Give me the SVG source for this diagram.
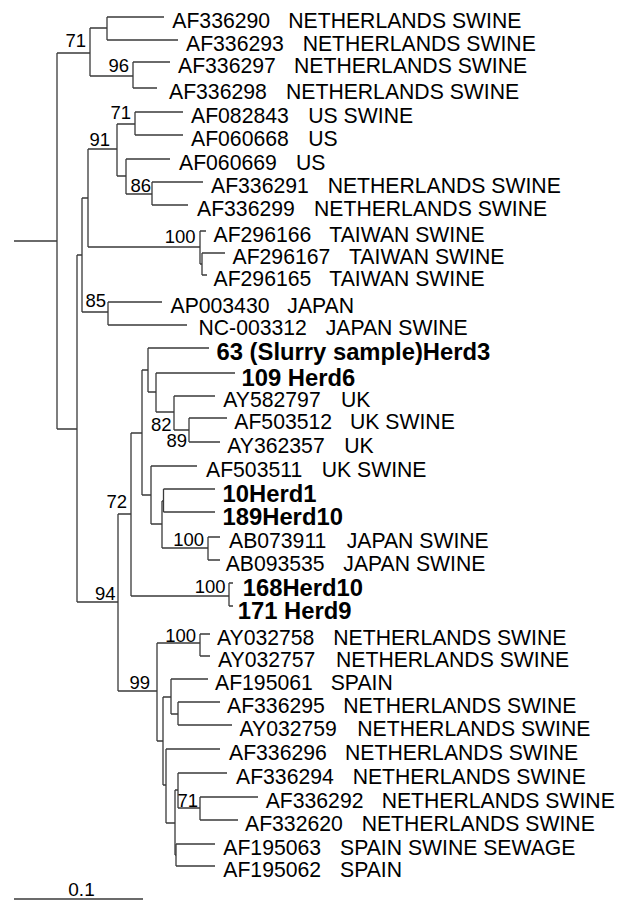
<svg xmlns="http://www.w3.org/2000/svg" width="618" height="900" viewBox="0 0 618 900">
<style>
.br{fill:none;stroke:#3a3a3a;stroke-width:1.3}
.t{font-family:"Liberation Sans",Arial,sans-serif;font-size:21.2px;fill:#000}
.b{font-family:"Liberation Sans",Arial,sans-serif;font-size:23.8px;font-weight:bold;fill:#000}
.bs{font-family:"Liberation Sans",Arial,sans-serif;font-size:18.5px;fill:#000;text-anchor:end}
</style>
<rect width="618" height="900" fill="#fff"/>
<g id="connectors" class="br">
<path d="M14 241H57M57 53V429M57 53H90M57 429H77"/>
<path d="M90 28V76M90 28H107M90 76H133"/>
<path d="M107 17V40M107 17H164M107 40H178"/>
<path d="M133 62V88M133 62H170M133 88H157"/>
<path d="M77 255V602M77 255H82M77 602H118"/>
<path d="M82 198V312M82 198H88M82 312H108"/>
<path d="M88 149V247M88 149H117M88 247H200"/>
<path d="M117 124V176M117 124H135M117 176H126"/>
<path d="M135 112V135M135 112H183M135 135H183"/>
<path d="M126 159V194M126 159H170M126 194H152"/>
<path d="M152 182V205M152 182H203M152 205H188"/>
<path d="M200 231V264M200 231H206M200 264H202"/>
<path d="M202 253V275M202 253H225M202 275H207"/>
<path d="M108 302V325M108 302H162M108 325H187"/>
<path d="M118 514V691M118 514H131M118 691H157"/>
<path d="M131 433V596M131 433H142M131 596H229"/>
<path d="M142 370V495M142 370H148M142 495H151"/>
<path d="M148 348V392M148 348H209M148 392H156"/>
<path d="M156 373V412M156 373H235M156 412H174"/>
<path d="M174 396V430M174 396H215M174 430H189"/>
<path d="M189 418V442M189 418H227M189 442H220"/>
<path d="M151 466V524M151 466H197M151 524H162"/>
<path d="M162 501V548M162 501H163.5M162 548H208"/>
<path d="M163.5 489V512M163.5 489H215M163.5 512H215"/>
<path d="M208 537V560M208 537H220M208 560H220"/>
<path d="M229 583V606M229 583H233M229 606H233"/>
<path d="M157 643V741M157 643H200M157 741H163"/>
<path d="M200 634V656M200 634H210M200 656H210"/>
<path d="M163 697V785M163 697H171M163 785H166"/>
<path d="M171 679V714M171 679H208M171 714H178"/>
<path d="M178 702V725M178 702H220M178 725H232"/>
<path d="M166 749V823M166 749H220M166 823H175"/>
<path d="M175 790V855M175 790H178M175 855H176"/>
<path d="M178 773V808M178 773H227M178 808H200"/>
<path d="M200 797V820M200 797H258M200 820H238"/>
<path d="M176 844V866M176 844H215M176 866H215"/>
<path d="M14 899H143" style="stroke-width:1.6"/>
</g>
<g id="leaves">
<g id="n1"><text class="t" x="172.3" y="27.5">AF336290<tspan x="288.3">NETHERLANDS SWINE</tspan></text></g>
<g id="n2"><text class="t" x="186" y="50.5">AF336293<tspan x="302.7">NETHERLANDS SWINE</tspan></text></g>
<g id="n3"><text class="t" x="178" y="72.5">AF336297<tspan x="294">NETHERLANDS SWINE</tspan></text></g>
<g id="n4"><text class="t" x="169" y="98.5">AF336298<tspan x="286">NETHERLANDS SWINE</tspan></text></g>
<g id="n5"><text class="t" x="191" y="122.5">AF082843<tspan x="308.3">US SWINE</tspan></text></g>
<g id="n6"><text class="t" x="191" y="145.5">AF060668<tspan x="308.3">US</tspan></text></g>
<g id="n7"><text class="t" x="179" y="169.5">AF060669<tspan x="296">US</tspan></text></g>
<g id="n8"><text class="t" x="211" y="192.5">AF336291<tspan x="327.7">NETHERLANDS SWINE</tspan></text></g>
<g id="n9"><text class="t" x="197" y="215.5">AF336299<tspan x="314">NETHERLANDS SWINE</tspan></text></g>
<g id="n10"><text class="t" x="213.5" y="241.5">AF296166<tspan x="329.3">TAIWAN SWINE</tspan></text></g>
<g id="n11"><text class="t" x="232.5" y="263.5">AF296167<tspan x="349">TAIWAN SWINE</tspan></text></g>
<g id="n12"><text class="t" x="213.5" y="285.5">AF296165<tspan x="329.3">TAIWAN SWINE</tspan></text></g>
<g id="n13"><text class="t" x="170.5" y="312.5">AP003430<tspan x="287.3">JAPAN</tspan></text></g>
<g id="n14"><text class="t" x="198.5" y="334.5">NC-003312<tspan x="325.7">JAPAN SWINE</tspan></text></g>
<g id="n15"><text class="b" x="216.5" y="359.5">63 (Slurry sample)Herd3</text></g>
<g id="n16"><text class="b" x="241.5" y="385.5">109 Herd6</text></g>
<g id="n17"><text class="t" x="223.3" y="406.5">AY582797<tspan x="341">UK</tspan></text></g>
<g id="n18"><text class="t" x="234.3" y="428.5">AF503512<tspan x="350">UK SWINE</tspan></text></g>
<g id="n19"><text class="t" x="227.3" y="452.5">AY362357<tspan x="344.3">UK</tspan></text></g>
<g id="n20"><text class="t" x="206" y="476.5">AF503511<tspan x="321.7">UK SWINE</tspan></text></g>
<g id="n21"><text class="b" x="222.5" y="501.5">10Herd1</text></g>
<g id="n22"><text class="b" x="222.5" y="524.5">189Herd10</text></g>
<g id="n23"><text class="t" x="229" y="547.5">AB073911<tspan x="346.7">JAPAN SWINE</tspan></text></g>
<g id="n24"><text class="t" x="225.7" y="570.5">AB093535<tspan x="343.3">JAPAN SWINE</tspan></text></g>
<g id="n25"><text class="b" x="242.7" y="595.5">168Herd10</text></g>
<g id="n26"><text class="b" x="237.7" y="618.5">171 Herd9</text></g>
<g id="n27"><text class="t" x="217" y="644.5">AY032758<tspan x="333.3">NETHERLANDS SWINE</tspan></text></g>
<g id="n28"><text class="t" x="218" y="666.5">AY032757<tspan x="336">NETHERLANDS SWINE</tspan></text></g>
<g id="n29"><text class="t" x="215" y="689.5">AF195061<tspan x="330.7">SPAIN</tspan></text></g>
<g id="n30"><text class="t" x="227" y="712.5">AF336295<tspan x="343.3">NETHERLANDS SWINE</tspan></text></g>
<g id="n31"><text class="t" x="239.5" y="735.5">AY032759<tspan x="357.3">NETHERLANDS SWINE</tspan></text></g>
<g id="n32"><text class="t" x="229" y="759.5">AF336296<tspan x="345">NETHERLANDS SWINE</tspan></text></g>
<g id="n33"><text class="t" x="236" y="783.5">AF336294<tspan x="352.7">NETHERLANDS SWINE</tspan></text></g>
<g id="n34"><text class="t" x="265.7" y="807.5">AF336292<tspan x="381.7">NETHERLANDS SWINE</tspan></text></g>
<g id="n35"><text class="t" x="245" y="830.5">AF332620<tspan x="361.7">NETHERLANDS SWINE</tspan></text></g>
<g id="n36"><text class="t" x="223.3" y="854.5">AF195063<tspan x="340">SPAIN SWINE SEWAGE</tspan></text></g>
<g id="n37"><text class="t" x="223.3" y="876.5">AF195062<tspan x="340">SPAIN</tspan></text></g>
</g>
<g id="support">
<text class="bs" x="86" y="47">71</text>
<text class="bs" x="129" y="71.7">96</text>
<text class="bs" x="131" y="119">71</text>
<text class="bs" x="110" y="145.7">91</text>
<text class="bs" x="151" y="192">86</text>
<text class="bs" x="195.5" y="243">100</text>
<text class="bs" x="106" y="307.3">85</text>
<text class="bs" x="171.5" y="430.7">82</text>
<text class="bs" x="187" y="447.3">89</text>
<text class="bs" x="127" y="508">72</text>
<text class="bs" x="204" y="546">100</text>
<text class="bs" x="225.5" y="593">100</text>
<text class="bs" x="115.5" y="600">94</text>
<text class="bs" x="196" y="642">100</text>
<text class="bs" x="150" y="689">99</text>
<text class="bs" x="198" y="806.7">71</text>
</g>
<g id="scale"><text x="81.5" y="896" font-family="Liberation Sans, Arial, sans-serif" font-size="19" text-anchor="middle">0.1</text></g>
</svg>
